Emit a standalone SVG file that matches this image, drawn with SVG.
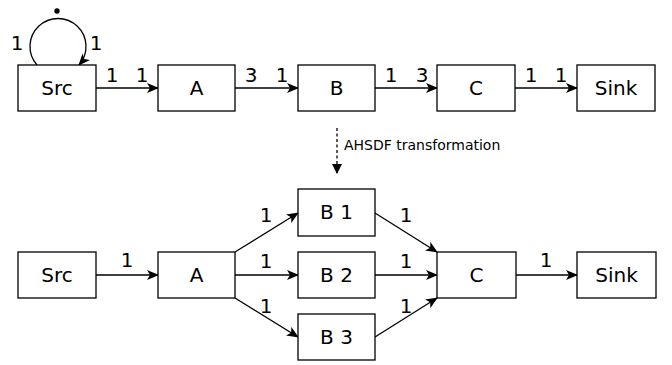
<svg xmlns="http://www.w3.org/2000/svg" width="672" height="365" viewBox="0 0 672 365">
<defs>
<marker id="ah" viewBox="0 0 12 10" refX="11" refY="5" markerWidth="12" markerHeight="10" markerUnits="userSpaceOnUse" orient="auto">
<path d="M0,0 L12,5 L0,10 L3,5 z" fill="#000"/>
</marker>
<marker id="ahd" viewBox="0 0 10 10" refX="9" refY="5" markerWidth="10" markerHeight="10" markerUnits="userSpaceOnUse" orient="auto">
<path d="M0,0 L10,5 L0,10 z" fill="#000"/>
</marker>
</defs>
<style>
.box{fill:#fff;stroke:#000;stroke-width:1.3}
.lbl{font-family:"DejaVu Sans",sans-serif;font-size:20px;text-anchor:middle;fill:#000}
.num{font-family:"DejaVu Sans",sans-serif;font-size:20px;text-anchor:middle;fill:#000}
.edge{fill:none;stroke:#000;stroke-width:1.3;marker-end:url(#ah)}
</style>
<rect width="672" height="365" fill="#fff"/>
<g id="connectors">
<path class="edge" d="M37,65 A28,28 0 1 1 79,65"/>
<circle cx="57" cy="11" r="2.7" fill="#000"/>
<line class="edge" x1="96" y1="88" x2="158" y2="88"/>
<line class="edge" x1="235" y1="88" x2="298" y2="88"/>
<line class="edge" x1="375" y1="88" x2="437" y2="88"/>
<line class="edge" x1="515" y1="88" x2="577" y2="88"/>
<line x1="337" y1="128" x2="337" y2="173" stroke="#000" stroke-width="1.3" stroke-dasharray="3,2.5" marker-end="url(#ahd)"/>
<line class="edge" x1="96" y1="275" x2="158" y2="275"/>
<line class="edge" x1="235" y1="252" x2="298" y2="213"/>
<line class="edge" x1="235" y1="275" x2="298" y2="275"/>
<line class="edge" x1="235" y1="298" x2="298" y2="337"/>
<line class="edge" x1="375" y1="213" x2="437" y2="252"/>
<line class="edge" x1="375" y1="275" x2="437" y2="275"/>
<line class="edge" x1="375" y1="337" x2="437" y2="298"/>
<line class="edge" x1="516" y1="275" x2="577" y2="275"/>
<g class="num">
<text x="17" y="50">1</text>
<text x="96" y="50">1</text>
<text x="112" y="82">1</text>
<text x="142" y="82">1</text>
<text x="251" y="82">3</text>
<text x="282" y="82">1</text>
<text x="391" y="82">1</text>
<text x="422" y="82">3</text>
<text x="531" y="82">1</text>
<text x="561" y="82">1</text>
<text x="127" y="267">1</text>
<text x="266" y="222">1</text>
<text x="266" y="268">1</text>
<text x="266" y="313">1</text>
<text x="406" y="222">1</text>
<text x="406" y="268">1</text>
<text x="406" y="313">1</text>
<text x="546" y="267">1</text>
</g>
<text x="344" y="150" font-family="DejaVu Sans, sans-serif" font-size="14">AHSDF transformation</text>
</g>
<g id="top-src"><rect class="box" x="18" y="65" width="78" height="46"/><text class="lbl" x="57" y="95">Src</text></g>
<g id="top-a"><rect class="box" x="158" y="65" width="77" height="46"/><text class="lbl" x="196.5" y="95">A</text></g>
<g id="top-b"><rect class="box" x="298" y="65" width="77" height="46"/><text class="lbl" x="336.5" y="95">B</text></g>
<g id="top-c"><rect class="box" x="437" y="65" width="78" height="46"/><text class="lbl" x="476" y="95">C</text></g>
<g id="top-sink"><rect class="box" x="577" y="65" width="78" height="46"/><text class="lbl" x="616" y="95">Sink</text></g>
<g id="bot-src"><rect class="box" x="18" y="252" width="78" height="46"/><text class="lbl" x="57" y="282">Src</text></g>
<g id="bot-a"><rect class="box" x="158" y="252" width="77" height="46"/><text class="lbl" x="196.5" y="282">A</text></g>
<g id="b1"><rect class="box" x="298" y="189" width="77" height="47"/><text class="lbl" x="336.5" y="219">B 1</text></g>
<g id="b2"><rect class="box" x="298" y="252" width="77" height="46"/><text class="lbl" x="336.5" y="282">B 2</text></g>
<g id="b3"><rect class="box" x="298" y="314" width="77" height="46"/><text class="lbl" x="336.5" y="344">B 3</text></g>
<g id="bot-c"><rect class="box" x="437" y="252" width="79" height="46"/><text class="lbl" x="476.5" y="282">C</text></g>
<g id="bot-sink"><rect class="box" x="577" y="252" width="79" height="46"/><text class="lbl" x="616.5" y="282">Sink</text></g>
</svg>
